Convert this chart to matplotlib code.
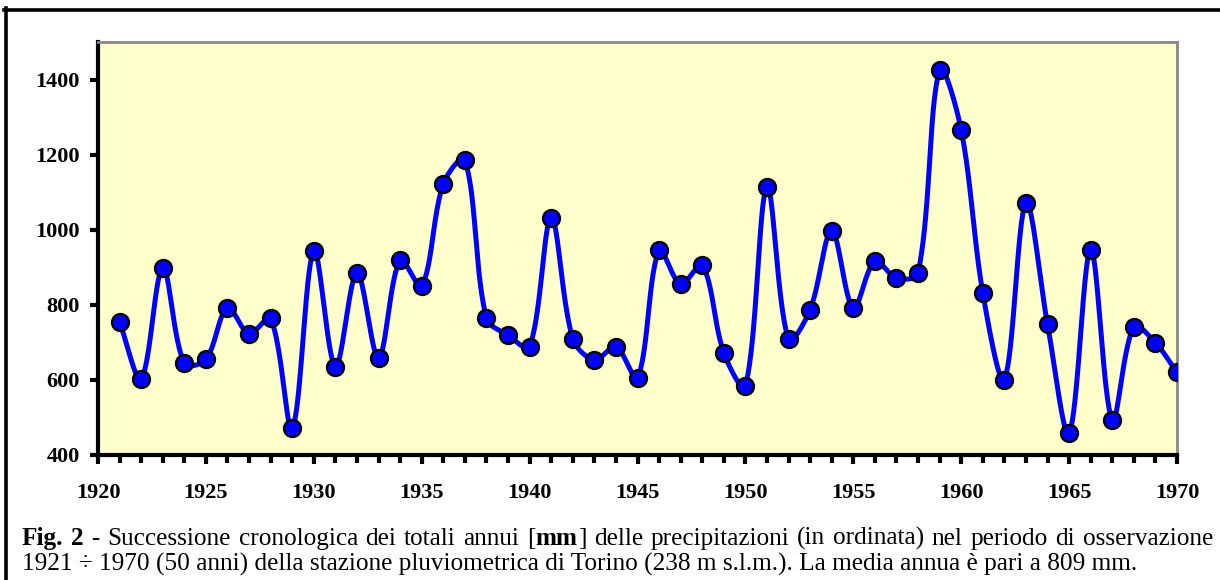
import numpy as np
import matplotlib.pyplot as plt
from matplotlib.lines import Line2D

# annual rainfall totals, Torino 1921-1970 (mm)
years = np.arange(1921, 1971)
rain = [754, 603, 898, 644, 655, 792, 723, 764, 471, 944,
        635, 885, 659, 919, 850, 1122, 1186, 764, 719, 688,
        1031, 710, 653, 688, 605, 945, 855, 906, 672, 583,
        1114, 708, 787, 997, 791, 916, 871, 884, 1426, 1266,
        832, 601, 1071, 748, 458, 947, 493, 742, 699, 620]

xticks = list(range(1920, 1971, 5))
yticks = [400, 600, 800, 1000, 1200, 1400]

caption1 = [[("Fig.", "bold")], [("2", "bold")], [("-", "normal")],
            [("Successione", "normal")], [("cronologica", "normal")], [("dei", "normal")],
            [("totali", "normal")], [("annui", "normal")],
            [("[", "normal"), ("mm", "bold"), ("]", "normal")],
            [("delle", "normal")], [("precipitazioni", "normal")], [("(in", "normal")],
            [("ordinata)", "normal")], [("nel", "normal")], [("periodo", "normal")],
            [("di", "normal")], [("osservazione", "normal")]]
caption2 = ("1921 \u00f7 1970 (50 anni) della stazione pluviometrica di Torino "
            "(238 m s.l.m.). La media annua \u00e8 pari a 809 mm.")


def smooth(ax, x, y, n=40):
    # excel-like smoothed line, bezier segments built in screen space,
    # tangents scaled by the neighbouring segment lengths
    P = ax.transData.transform(np.column_stack([x, y]).astype(float))
    P = np.vstack([P[0], P, P[-1]])
    d = np.hypot(*np.diff(P, axis=0).T)
    t = np.linspace(0, 1, n)[:, None]
    out = []
    for i in range(1, len(P) - 2):
        p0, p3 = P[i], P[i + 1]
        d0, d1, d2 = d[i - 1], d[i], d[i + 1]
        c1 = p0 + (P[i + 1] - P[i - 1]) * (d1 / (d0 + d1) if d0 + d1 else 0) / 3
        c2 = p3 - (P[i + 2] - P[i]) * (d1 / (d1 + d2) if d1 + d2 else 0) / 3
        b = (1 - t) ** 3 * p0 + 3 * (1 - t) ** 2 * t * c1 + 3 * (1 - t) * t ** 2 * c2 + t ** 3 * p3
        out.append(b)
    out = ax.transData.inverted().transform(np.vstack(out))
    return out[:, 0], out[:, 1]


plt.rcParams['font.family'] = ['Liberation Serif', 'DejaVu Serif']

fig = plt.figure(figsize=(12.2, 5.8), dpi=100)
W, H = 1220, 580
ax = fig.add_axes([98 / W, 1 - 455 / H, (1177 - 98) / W, (455 - 42) / H])
ax.set_facecolor('#FFFFCC')

ax.set_xlim(1920, 1970)
ax.set_ylim(400, 1500)

sx, sy = smooth(ax, years, rain)
ax.plot(sx, sy, color='#0000FF', lw=3.6, solid_capstyle='round', zorder=2)
ax.plot(years, rain, 'o', ms=12.2, mfc='#0000FF', mec='black', mew=1.7, zorder=3)

ax.set_xticks(xticks)
ax.set_xticks(years, minor=True)
ax.set_yticks(yticks)
ax.tick_params(axis='both', which='both', direction='out', width=3, color='black',
               labelsize=16)
ax.tick_params(axis='x', which='major', length=6.5, pad=13.5)
ax.tick_params(axis='x', which='minor', length=5.5)
ax.tick_params(axis='y', length=6, pad=7)
for lab in ax.get_xticklabels() + ax.get_yticklabels():
    lab.set_fontweight('bold')

ax.spines['left'].set_linewidth(3)
ax.spines['bottom'].set_linewidth(3)
ax.spines['top'].set_color('#888888')
ax.spines['right'].set_color('#888888')
ax.spines['top'].set_linewidth(2)
ax.spines['right'].set_linewidth(2)

# outer frame (left and top only)
fig.add_artist(Line2D([5.5 / W, 5.5 / W], [0, 1 - 8 / H], color='black', lw=2.6))
fig.add_artist(Line2D([4 / W, 1], [1 - 9.5 / H, 1 - 9.5 / H], color='black', lw=2.6))

# caption, first line justified
cap_size = 18.2
renderer = fig.canvas.get_renderer()
x_left, x_right = 22, 1213
y1, y2 = 1 - 545 / H, 1 - 571 / H
widths = []
for word in caption1:
    w = 0
    for txt, wt in word:
        t = fig.text(0, 0, txt, fontsize=cap_size, fontweight=wt)
        w += t.get_window_extent(renderer).width
        t.remove()
    widths.append(w)
gap = (x_right - x_left - sum(widths)) / (len(caption1) - 1)
x = x_left
for word, w in zip(caption1, widths):
    xx = x
    for txt, wt in word:
        t = fig.text(xx / W, y1, txt, fontsize=cap_size, fontweight=wt, va='baseline')
        xx += t.get_window_extent(renderer).width
    x += w + gap
fig.text(x_left / W, y2, caption2, fontsize=cap_size, va='baseline')

fig.savefig('out.png', dpi=100)
